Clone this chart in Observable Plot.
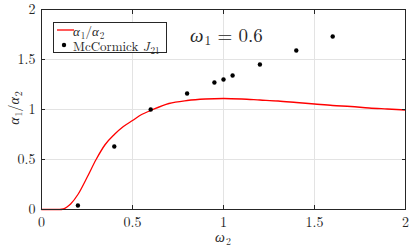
<!DOCTYPE html>
<html><head><meta charset="utf-8">
<script src="https://cdn.jsdelivr.net/npm/d3@7"></script>
<script src="https://cdn.jsdelivr.net/npm/@observablehq/plot@0.6"></script>
<style>
body{margin:0;background:#fff;}
#wrap{position:relative;width:409px;height:248px;font-family:"Latin Modern Roman","Liberation Serif",serif;}
#wrap svg text{font-family:"Latin Modern Roman","Liberation Serif",serif !important;}
#legend{position:absolute;left:53px;top:22px;width:114px;height:31px;border:1px solid #262626;background:#fff;font-size:13px;line-height:13px;color:#262626;box-sizing:border-box;}
#legend .row{position:absolute;left:0;white-space:nowrap;}
#ann{position:absolute;left:190px;top:24px;font-size:19px;line-height:22px;color:#262626;white-space:nowrap;}
#ylab{position:absolute;left:-4px;top:100px;transform:rotate(-90deg);font-size:14px;line-height:16px;color:#262626;white-space:nowrap;}
#xlab{position:absolute;left:215px;top:228px;font-size:14px;line-height:16px;color:#262626;}
sub{font-size:70%;vertical-align:-3px;line-height:0;margin-left:1px;}
</style></head>
<body><div id="wrap"></div>
<script>
// model curve alpha1/alpha2 vs omega2
const curveX = [0,0.1,0.12,0.14,0.16,0.2,0.25,0.3,0.35,0.4,0.45,0.5,0.55,0.6,0.7,0.8,0.9,1.0,1.1,1.2,1.3,1.4,1.5,1.6,1.7,1.8,1.9,2.0];
const curveY = [0,0,0.005,0.025,0.055,0.15,0.32,0.5,0.65,0.75,0.83,0.89,0.95,0.99,1.06,1.09,1.105,1.11,1.105,1.095,1.085,1.07,1.055,1.04,1.03,1.015,1.005,0.995];
// McCormick J21 points
const mcX = [0.2,0.4,0.6,0.8,0.95,1.0,1.05,1.2,1.4,1.6];
const mcY = [0.04,0.63,1.0,1.16,1.27,1.3,1.34,1.45,1.59,1.73];
const xTicks = [0,0.5,1,1.5,2];
const yTicks = [0,0.5,1,1.5,2];
const xTickLabels = ["0","0.5","1","1.5","2"];
const yTickLabels = ["0","0.5","1","1.5","2"];

const curve = curveX.map((x,i)=>({x, y: curveY[i]}));
const mc = mcX.map((x,i)=>({x, y: mcY[i]}));
const axisColor = "#262626";

const plot = Plot.plot({
  width: 409, height: 248,
  marginLeft: 41, marginRight: 4, marginTop: 9, marginBottom: 39,
  style: {fontSize: "14px", color: axisColor, background: "#fff", overflow: "visible"},
  x: {domain: [0,2]},
  y: {domain: [0,2]},
  marks: [
    Plot.gridX(xTicks, {stroke: "#e3e3e3", strokeOpacity: 1, strokeWidth: 1}),
    Plot.gridY(yTicks, {stroke: "#e3e3e3", strokeOpacity: 1, strokeWidth: 1}),
    Plot.line(curve, {x: "x", y: "y", stroke: "#ff0000", strokeWidth: 1.3, curve: "monotone-x"}),
    Plot.dot(mc, {x: "x", y: "y", r: 2.2, fill: "black", stroke: "none"}),
    Plot.frame({stroke: axisColor, strokeWidth: 1}),
    Plot.axisX(xTicks, {anchor: "bottom", tickSize: -4, tickPadding: 12, tickFormat: (d,i)=>xTickLabels[i], label: null, stroke: axisColor, fill: axisColor, fontSize: 14}),
    Plot.axisX(xTicks, {anchor: "top", tickSize: -4, tickFormat: ()=>"", label: null, stroke: axisColor}),
    Plot.axisY(yTicks, {anchor: "left", tickSize: -4, tickPadding: 10, tickFormat: (d,i)=>yTickLabels[i], label: null, stroke: axisColor, fill: axisColor, fontSize: 14}),
    Plot.axisY(yTicks, {anchor: "right", tickSize: -4, tickFormat: ()=>"", label: null, stroke: axisColor})
  ]
});
const wrap = document.getElementById("wrap");
wrap.appendChild(plot);

const legend = document.createElement("div");
legend.id = "legend";
legend.innerHTML = `
<svg width="20" height="12" style="position:absolute;left:2px;top:1px"><line x1="1" x2="18" y1="6" y2="6" stroke="#ff0000" stroke-width="1.3"/></svg>
<div class="row" style="left:19px;top:1px"><i>α</i><sub>1</sub>/<i>α</i><sub>2</sub></div>
<svg width="20" height="12" style="position:absolute;left:2px;top:16px"><circle cx="8" cy="6" r="2.2" fill="black"/></svg>
<div class="row" style="left:19px;top:16px">McCormick <i>J</i><sub>21</sub></div>`;
wrap.appendChild(legend);

const ann = document.createElement("div");
ann.id = "ann";
ann.innerHTML = `<i>ω</i><sub>1</sub> = 0.6`;
wrap.appendChild(ann);

const ylab = document.createElement("div");
ylab.id = "ylab";
ylab.innerHTML = `<i>α</i><sub>1</sub>/<i>α</i><sub>2</sub>`;
wrap.appendChild(ylab);

const xlab = document.createElement("div");
xlab.id = "xlab";
xlab.innerHTML = `<i>ω</i><sub>2</sub>`;
wrap.appendChild(xlab);
</script></body></html>
